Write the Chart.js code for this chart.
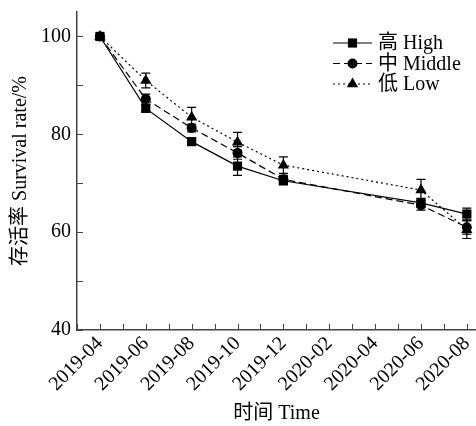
<!DOCTYPE html>
<html>
<head>
<meta charset="utf-8">
<script src="https://cdn.jsdelivr.net/npm/chart.js@4.4.1/dist/chart.umd.min.js"></script>
<style>
  html, body { margin: 0; padding: 0; background: #fff; }
  #wrap { width: 476px; height: 426px; }
</style>
</head>
<body>
<div id="wrap"><canvas id="survivalChart" width="476" height="426"></canvas></div>
<script>
// Months counted from 2019-04 (0 = 2019-04, 16 = 2020-08)
var sampleMonths = [0, 2, 4, 6, 8, 14, 16];
var xTickLabels = ['2019-04', '2019-06', '2019-08', '2019-10', '2019-12', '2020-02', '2020-04', '2020-06', '2020-08'];
var yTickLabels = [40, 60, 80, 100];

var seriesNames = ['高 High', '中 Middle', '低 Low'];
var highValues = [100, 85.3, 78.5, 73.5, 70.5, 66.0, 63.7];
var middleValues = [100, 87.2, 81.3, 76.2, 70.8, 65.5, 61.0];
var lowValues = [100, 91.0, 83.5, 78.4, 73.7, 68.6, 60.5];
var highErr = [0, 0.7, 0.6, 1.9, 0.8, 0.9, 1.2];
var middleErr = [0, 1.0, 0.8, 1.3, 0.8, 1.0, 1.4];
var lowErr = [0, 1.5, 2.0, 2.0, 1.7, 2.2, 1.8];

var FONT = "'Liberation Serif', 'Noto Sans CJK SC', serif";
var INK = '#000';
var AXIS = '#444';

function points(values, errs) {
    return values.map(function (v, i) {
        return { x: sampleMonths[i], y: v, err: errs[i] };
    });
}

function lineDataSet(label, values, errs, pointStyle, radius, dash) {
    return {
        label: label,
        data: points(values, errs),
        borderColor: INK,
        backgroundColor: INK,
        borderWidth: 1.2,
        borderDash: dash,
        pointStyle: pointStyle,
        pointRadius: radius,
        pointHoverRadius: radius,
        pointBorderWidth: 0,
        tension: 0,
    };
}

// error bars, inward ticks and legend drawn on the canvas
var extras = {
    id: 'extras',
    afterDatasetsDraw: function (chart) {
        var ctx = chart.ctx;
        var x = chart.scales.x, y = chart.scales.y;
        ctx.save();
        ctx.strokeStyle = INK;
        ctx.lineWidth = 1.2;
        ctx.setLineDash([]);
        chart.data.datasets.forEach(function (ds) {
            ds.data.forEach(function (p) {
                if (!p.err) return;
                var px = x.getPixelForValue(p.x);
                var top = y.getPixelForValue(p.y + p.err);
                var bot = y.getPixelForValue(p.y - p.err);
                ctx.beginPath();
                ctx.moveTo(px, top); ctx.lineTo(px, bot);
                ctx.moveTo(px - 4.5, top); ctx.lineTo(px + 4.5, top);
                ctx.moveTo(px - 4.5, bot); ctx.lineTo(px + 4.5, bot);
                ctx.stroke();
            });
        });

        // inward tick marks
        var area = chart.chartArea;
        ctx.strokeStyle = AXIS;
        ctx.lineWidth = 1;
        x.ticks.forEach(function (t) {
            var px = Math.round(x.getPixelForValue(t.value)) + 0.5;
            ctx.beginPath();
            ctx.moveTo(px, area.bottom); ctx.lineTo(px, area.bottom - 6);
            ctx.stroke();
        });
        y.ticks.forEach(function (t) {
            var py = Math.round(y.getPixelForValue(t.value)) + 0.5;
            ctx.beginPath();
            ctx.moveTo(area.left, py); ctx.lineTo(area.left + 6, py);
            ctx.stroke();
        });

        // legend
        var lx = 333, ly = 43, row = 20.5;
        ctx.font = '20px ' + FONT;
        ctx.textBaseline = 'middle';
        ctx.fillStyle = INK;
        chart.data.datasets.forEach(function (ds, i) {
            var yy = ly + i * row;
            ctx.strokeStyle = INK;
            ctx.lineWidth = 1.2;
            ctx.setLineDash(ds.borderDash || []);
            ctx.beginPath();
            ctx.moveTo(lx, yy); ctx.lineTo(lx + 39, yy);
            ctx.stroke();
            ctx.setLineDash([]);
            Chart.helpers.drawPoint(ctx, { pointStyle: ds.pointStyle, radius: ds.pointRadius, borderWidth: 0 }, lx + 19.5, yy);
            ctx.fillText(seriesNames[i], lx + 45, yy + 1);
        });
        ctx.restore();
    }
};

var chartData = {
    datasets: [
        lineDataSet(seriesNames[0], highValues, highErr, 'rect', 6.5, []),
        lineDataSet(seriesNames[1], middleValues, middleErr, 'circle', 5, [7, 4]),
        lineDataSet(seriesNames[2], lowValues, lowErr, 'triangle', 6.5, [2, 3]),
    ]
};

function noPadding(scale) {
    scale.paddingLeft = 0;
    scale.paddingRight = 0;
    scale.paddingTop = 0;
    scale.paddingBottom = 0;
}

var survivalChart = new Chart(document.getElementById('survivalChart'), {
    type: 'line',
    data: chartData,
    plugins: [extras],
    options: {
        responsive: false,
        animation: false,
        layout: { autoPadding: false, padding: { top: 12, right: 0, bottom: 0, left: 0 } },
        plugins: {
            legend: { display: false },
            tooltip: { enabled: false },
        },
        scales: {
            x: {
                type: 'linear',
                min: -1,
                max: 16.4,
                afterBuildTicks: function (scale) {
                    var ticks = [];
                    for (var m = -1; m <= 16; m++) ticks.push({ value: m });
                    scale.ticks = ticks;
                },
                afterFit: function (scale) { scale.height = 96; noPadding(scale); },
                ticks: {
                    autoSkip: false,
                    minRotation: 45,
                    maxRotation: 45,
                    padding: 2,
                    color: INK,
                    font: { family: FONT, size: 20 },
                    callback: function (v) {
                        return (v >= 0 && v % 2 === 0) ? xTickLabels[v / 2] : '';
                    }
                },
                grid: { display: true, drawOnChartArea: false, drawTicks: false },
                border: { display: true, color: AXIS, width: 1.5 },
                title: {
                    display: true,
                    text: '时间 Time',
                    color: INK,
                    font: { family: FONT, size: 20 },
                    padding: { top: 0, bottom: 0 }
                }
            },
            y: {
                min: 40,
                max: 105,
                afterBuildTicks: function (scale) {
                    var ticks = [];
                    for (var v = 40; v <= 100; v += 10) ticks.push({ value: v });
                    scale.ticks = ticks;
                },
                afterFit: function (scale) { scale.width = 77; noPadding(scale); },
                ticks: {
                    padding: 6,
                    color: INK,
                    font: { family: FONT, size: 20 },
                    callback: function (v) {
                        return yTickLabels.indexOf(v) >= 0 ? String(v) : '';
                    }
                },
                grid: { display: true, drawOnChartArea: false, drawTicks: false },
                border: { display: true, color: AXIS, width: 1.5 },
                title: {
                    display: true,
                    text: '存活率 Survival rate/%',
                    color: INK,
                    font: { family: FONT, size: 20 },
                    padding: { top: 9, bottom: 0 }
                }
            }
        }
    }
});
</script>
</body>
</html>
